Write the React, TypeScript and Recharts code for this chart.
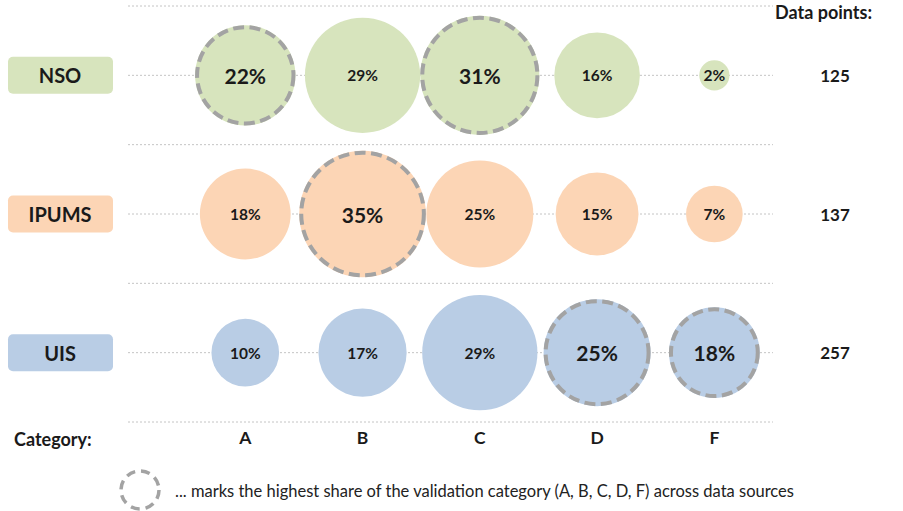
import React from 'react';
import { ScatterChart, Scatter, XAxis, YAxis, ZAxis, ReferenceLine } from 'recharts';

const categories = ['A', 'B', 'C', 'D', 'F'];
const sources = ['NSO', 'IPUMS', 'UIS'];
const nsoShares = [22, 29, 31, 16, 2];
const ipumsShares = [18, 35, 25, 15, 7];
const uisShares = [10, 17, 29, 25, 18];
const dataPoints = [125, 137, 257];
const sourceFills = ['#d7e4bd', '#fcd5b5', '#b9cde5'];

const shareRows = [nsoShares, ipumsShares, uisShares];
const rowY = (i: number) => sources.length - i - 0.5;
const maxByCat = categories.map((_, c) => Math.max(...shareRows.map((r) => r[c])));
const seriesData = shareRows.map((row, s) =>
  row.map((v, c) => ({ x: c, y: rowY(s), value: v, highlight: v === maxByCat[c] }))
);

const FONT = 'Lato, "Open Sans", sans-serif';
const INK = '#1a1a1a';
const DASH_GRAY = '#a3a3a3';
const GRID = '#c4c4c4';

const Bubble = (props: any) => {
  const { cx, cy, width, fill, payload } = props;
  const r = width / 2;
  const hl = payload.highlight;
  return (
    <g>
      <circle cx={cx} cy={cy} r={r} fill={fill} />
      {hl && (
        <circle cx={cx} cy={cy} r={r - 2} fill="none" stroke={DASH_GRAY} strokeWidth={4} strokeDasharray="11 5.5" />
      )}
      <text
        x={cx}
        y={cy}
        textAnchor="middle"
        dominantBaseline="central"
        fontFamily={FONT}
        fontWeight={700}
        fontSize={hl ? 21 : 15.5}
        fill={INK}
      >
        {payload.value}%
      </text>
    </g>
  );
};

const SourceTick = (props: any) => {
  const { y, payload } = props;
  const idx = Math.round(sources.length - 0.5 - payload.value);
  if (idx < 0 || idx >= sources.length) return null;
  return (
    <g>
      <rect x={8} y={y - 18.5} width={105} height={37} rx={5} fill={sourceFills[idx]} />
      <text x={60} y={y} textAnchor="middle" dominantBaseline="central" fontFamily={FONT} fontWeight={700} fontSize={20} fill={INK}>
        {sources[idx]}
      </text>
      <text x={835} y={y} textAnchor="middle" dominantBaseline="central" fontFamily={FONT} fontWeight={700} fontSize={17} fill={INK}>
        {dataPoints[idx]}
      </text>
    </g>
  );
};

const CategoryTick = (props: any) => {
  const { x, y, payload } = props;
  return (
    <text x={x} y={y + 7} textAnchor="middle" dominantBaseline="central" fontFamily={FONT} fontWeight={700} fontSize={17.5} fill={INK}>
      {categories[payload.value]}
    </text>
  );
};

export default function App() {
  return (
    <div style={{ position: 'absolute', left: 0, top: 0, width: 903, height: 511, background: '#fff', overflow: 'hidden' }}>
      <ScatterChart width={903} height={511} margin={{ top: 6, right: 130, bottom: 59, left: 8 }}>
        <XAxis
          type="number"
          dataKey="x"
          domain={[-1, 4.5]}
          ticks={[0, 1, 2, 3, 4]}
          axisLine={false}
          tickLine={false}
          height={30}
          tick={<CategoryTick />}
          interval={0}
        />
        <YAxis
          type="number"
          dataKey="y"
          domain={[0, 3]}
          ticks={[0.5, 1.5, 2.5]}
          axisLine={false}
          tickLine={false}
          width={120}
          tick={<SourceTick />}
          interval={0}
        />
        <ZAxis type="number" dataKey="value" domain={[0, 100]} range={[0, 35970]} />
        {[0, 1, 2, 3].map((g) => (
          <ReferenceLine key={'g' + g} y={g} stroke={GRID} strokeDasharray="2 2" strokeWidth={1} />
        ))}
        {[0.5, 1.5, 2.5].map((g) => (
          <ReferenceLine key={'c' + g} y={g} stroke={GRID} strokeDasharray="2 2" strokeWidth={1} />
        ))}
        {seriesData.map((d, s) => (
          <Scatter key={sources[s]} name={sources[s]} data={d} fill={sourceFills[s]} shape={<Bubble />} isAnimationActive={false} />
        ))}
      </ScatterChart>
      <div style={{ position: 'absolute', left: 14, top: 427, fontFamily: FONT, fontWeight: 700, fontSize: 18, color: INK, lineHeight: '24px' }}>
        Category:
      </div>
      <div style={{ position: 'absolute', left: 775, top: 3, fontFamily: FONT, fontWeight: 700, fontSize: 18, color: INK, lineHeight: '18px', whiteSpace: 'nowrap' }}>
        Data points:
      </div>
      <svg style={{ position: 'absolute', left: 118, top: 468 }} width={44} height={44}>
        <circle cx={22} cy={22} r={19} fill="none" stroke={DASH_GRAY} strokeWidth={3.5} strokeDasharray="9 6" />
      </svg>
      <div style={{ position: 'absolute', left: 175, top: 480, fontFamily: FONT, fontSize: 16.5, color: '#222', lineHeight: '22px', whiteSpace: 'nowrap' }}>
        ... marks the highest share of the validation category (A, B, C, D, F) across data sources
      </div>
    </div>
  );
}
